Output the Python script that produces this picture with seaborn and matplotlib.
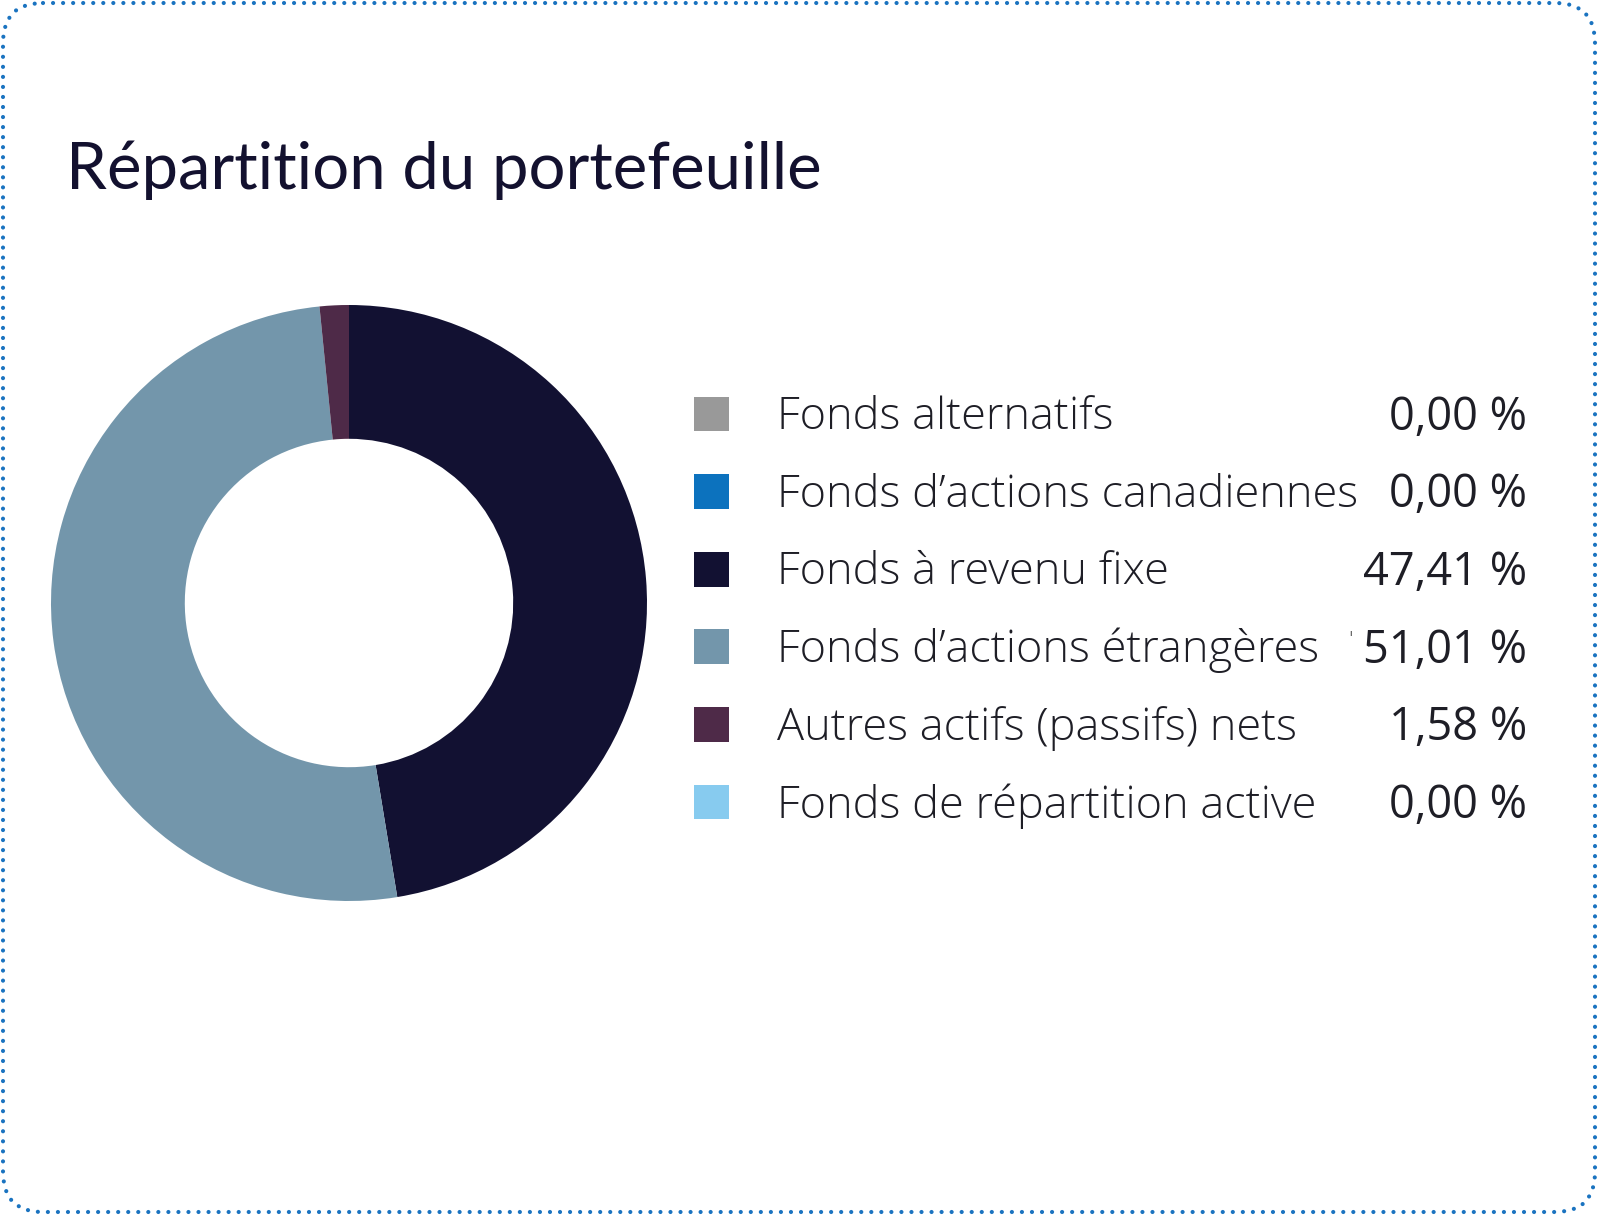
import numpy as np
import pandas as pd
import matplotlib
matplotlib.use("Agg")
import matplotlib.pyplot as plt
from matplotlib.patches import FancyBboxPatch
import seaborn as sns

# data
categories = ["Fonds alternatifs", "Fonds d\u2019actions canadiennes", "Fonds \u00e0 revenu fixe",
              "Fonds d\u2019actions \u00e9trang\u00e8res", "Autres actifs (passifs) nets",
              "Fonds de r\u00e9partition active"]
values = [0.00, 0.00, 47.41, 51.01, 1.58, 0.00]
value_labels = ["0,00 %", "0,00 %", "47,41 %", "51,01 %", "1,58 %", "0,00 %"]
colors = ["#999999", "#0c72be", "#121132", "#7396ab", "#4e2a48", "#87cbef"]
title = "R\u00e9partition du portefeuille"

df = pd.DataFrame({"category": categories, "value": values, "label": value_labels})

sns.set_theme(style="white")
plt.rcParams["font.family"] = ["Open Sans", "DejaVu Sans"]
palette = sns.color_palette(colors)

W, H = 1598, 1217
fig = plt.figure(figsize=(W / 100, H / 100), dpi=100)
fig.patch.set_facecolor("white")

# background axes in pixel units: border + title
bg = fig.add_axes([0, 0, 1, 1])
bg.set_xlim(0, W)
bg.set_ylim(H, 0)
bg.axis("off")
border = FancyBboxPatch((3, 3), W - 6, H - 8,
                        boxstyle="round,pad=0,rounding_size=40",
                        facecolor="none", edgecolor="#1a73c0",
                        linewidth=3, linestyle=(0, (0.01, 2.4)))
border.set_capstyle("round")
bg.add_patch(border)
bg.text(66, 189, title, fontsize=47, color="#13112f", family=["Lato", "DejaVu Sans"],
        ha="left", va="baseline")

# donut
ax = fig.add_axes([51 / W, 1 - 901 / H, 596 / W, 596 / H])
ax.pie(df["value"], colors=palette, startangle=90, counterclock=False,
       wedgeprops=dict(width=0.449, linewidth=0))
ax.set_xlim(-1, 1)
ax.set_ylim(-1, 1)
ax.set_aspect("equal")
ax.axis("off")

# legend rows
lx0, lx1 = 670, 1560
row_h = 77.6
ly0 = 414 - row_h / 2
ly1 = ly0 + row_h * len(df)
lg = fig.add_axes([lx0 / W, 1 - ly1 / H, (lx1 - lx0) / W, (ly1 - ly0) / H])
lg.set_xlim(lx0, lx1)
lg.set_ylim(len(df) - 0.5, -0.5)
lg.axis("off")
rows = np.arange(len(df))
sns.scatterplot(x=np.full(len(df), 711.5), y=rows, hue=df["category"], palette=palette,
                marker="s", s=635, linewidth=0, legend=False, ax=lg)
for i, r in df.iterrows():
    lg.text(777, i + 0.05, r["category"], fontsize=32.5, fontweight="light", color="#1e1e26",
            ha="left", va="center")
    lg.text(1527, i + 0.05, r["label"], fontsize=32.5, color="#1e1e26", ha="right", va="center")
# stray clipped mark before the 51,01 % value
lg.text(1351, 3 - 0.08, "\u02c8", fontsize=12, color="#555555", ha="center", va="center")

fig.savefig("out.png", dpi=100)
